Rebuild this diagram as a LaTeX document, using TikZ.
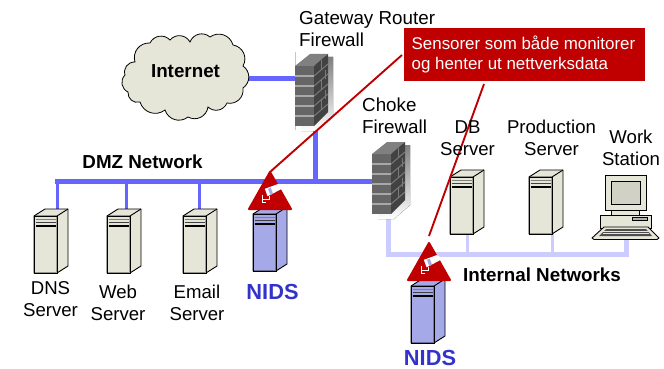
\documentclass[tikz,border=0pt]{standalone}
\usepackage{fontspec}
\setmainfont{Liberation Sans}
\definecolor{srvtan}{HTML}{E5E5D8}
\definecolor{srvblue}{HTML}{A6A9E8}
\definecolor{dmzblue}{HTML}{6666FF}
\definecolor{intblue}{HTML}{CCCCFF}
\definecolor{alarmred}{HTML}{C00000}
\definecolor{nidsblue}{HTML}{3333CC}
\definecolor{brickfront}{HTML}{666666}
\definecolor{brickside}{HTML}{424242}
\definecolor{mortar}{HTML}{A8A8A8}
\definecolor{shade}{HTML}{B4B4B4}
\newcommand{\srvbody}[1]{%
  \draw[line width=.9pt,fill=#1,line join=round] (0,0) -- (11,-7) -- (34,-7) -- (34,50) -- (23,57) -- (0,57) -- cycle;
  \draw[line width=.9pt] (0,0) -- (23,0) -- (34,-7) (23,0) -- (23,57);
  \fill[#1!70!black] (0,0) rectangle (1.2,57);
  \fill[#1!70!black] (21.8,0) rectangle (23,57);
  \draw[line width=.9pt] (0,0) -- (23,0) -- (23,57) -- (0,57) -- cycle;
  \foreach \yy/\cc in {3.5/gray,6.5/black!75,10/black}{\draw[\cc,line width=1.2pt] (1.5,\yy) -- (21.5,\yy);}
}
\tikzset{
  x=1pt,y=-1pt,
  servertan/.pic={\srvbody{srvtan}},
  serverblue/.pic={\srvbody{srvblue}},
  firewall/.pic={
    \fill[shade] (22,4) -- (38,4) -- (38,64) -- (22,78) -- (6,78) -- (6,73) -- cycle;
    \fill[brickfront] (0,13) -- (19,13) -- (19,73) -- (0,73) -- cycle;
    \fill[black!50] (0,13) -- (15,1) -- (33,1) -- (19,13) -- cycle;
    \fill[brickside] (19,13) -- (33,1) -- (33,59) -- (19,73) -- cycle;
    \foreach \yy in {23,33,43,53,63}{\draw[mortar,line width=1.2pt] (0,\yy) -- (19,\yy);}
    \foreach \yy in {10,20,30,40,50}{\draw[brickfront!70!mortar,line width=1pt] (19,\yy+13) -- (33,\yy+1);}
    \foreach \xx/\yy in {26/6,26/26,26/46,30/16,30/36}{\draw[brickfront!70!mortar,line width=.8pt] (\xx,\yy+1) -- (\xx,\yy+10);}
  },
  sensor/.pic={
    \fill[alarmred,draw=alarmred,line width=2pt,line join=round] (0,0) -- (21,37) -- (-21,37) -- cycle;
    \begin{scope}[shift={(2,19)},rotate=20]
      \fill[white] (-6,-4.5) -- (8,-4.5) -- (12,1) -- (-6,3.5) -- cycle;
      \fill[srvblue] (-3,-3.5) rectangle (0,3);
    \end{scope}
    \draw[white,line width=.7pt] (-8,23) -- (-8,30) (-8,27) -- (-1,27) -- (-1,24) (-8,30) -- (-4,30);
  },
  label/.style={font=\fontsize{18.6}{22}\selectfont,align=center,inner sep=0pt},
  lablft/.style={font=\fontsize{18.8}{22}\selectfont,align=left,inner sep=0pt},
  head/.style={font=\fontsize{18.8}{21}\selectfont\bfseries,inner sep=0pt},
  nidslabel/.style={font=\fontsize{21.8}{24}\selectfont\bfseries,text=nidsblue,inner sep=0pt,anchor=base},
  dmzbus/.style={dmzblue,line width=5pt},
  dmzdrop/.style={dmzblue,line width=3pt},
  intbus/.style={intblue,line width=5pt},
  intdrop/.style={intblue,line width=3pt},
  redline/.style={alarmred,line width=1.9pt},
  bump/.style={bend left=55,looseness=1.1},
}
\begin{document}
\begin{tikzpicture}
\useasboundingbox (0,0) rectangle (664,369);
% connection points
\coordinate (busL) at (55,181);
\coordinate (busR) at (375,181);
\coordinate (busW) at (126,181);
\coordinate (busE) at (199,181);
\coordinate (busD) at (57,181);
\coordinate (busG) at (315,181);
\coordinate (dnsT) at (57,210);
\coordinate (webT) at (126,210);
\coordinate (emailT) at (199,210);
\coordinate (gwB) at (315,125);
\coordinate (gwL) at (298,79);
\coordinate (inetR) at (247,79);
\coordinate (chokeB) at (388,210);
\coordinate (corner) at (388,254);
\coordinate (intR) at (626,254);
\coordinate (intDB) at (467,254);
\coordinate (intP) at (552,254);
\coordinate (dbB) at (467,232);
\coordinate (prodB) at (552,232);
\coordinate (wsB) at (626,238);
\coordinate (s1top) at (270,172);
\coordinate (s2top) at (429,236);
\coordinate (gwedgeT) at (295,52);
\coordinate (gwedgeB) at (295,130);
% links
\draw[gray!45,line width=.7pt] (gwedgeT) -- (gwedgeB);
\draw[dmzbus,line cap=butt] (inetR) -- (gwL);
\draw[dmzbus] (gwB) -- (busG);
\draw[dmzbus,line join=miter] (busL) -- (busR);
\draw[dmzdrop] (dnsT) -- (busD);
\draw[dmzdrop] (busW) -- (webT);
\draw[dmzdrop] (busE) -- (emailT);
\draw[intbus,line join=miter] (chokeB) -- (corner) -- (intR) -- (wsB);
\draw[intdrop] (dbB) -- (intDB);
\draw[intdrop] (prodB) -- (intP);
% cloud
\draw[fill=srvtan,line width=.8pt] (135,62) to[bump] (150,43) to[bump] (170,40) to[bump] (190,42) to[bump] (210,37) to[bump] (233,45) to[bump] (243,66) to[bump] (243,88) to[bump] (227,103) to[bump] (208,107) to[bump] (188,117) to[bump] (165,110) to[bump] (140,102) to[bump] (128,92) to[bump] (125,75) to[bump] (135,62) -- cycle;
\node[head] (inet) at (185.5,71) {Internet};
% devices
\pic (gw) at (295,53) {firewall};
\pic (choke) at (372,141) {firewall};
\pic (dns) at (34,216) {servertan};
\pic (web) at (107,216) {servertan};
\pic (email) at (183,216) {servertan};
\pic (nids1) at (253,214) {serverblue};
\pic (db) at (450,177) {servertan};
\pic (prod) at (529,177) {servertan};
\pic (nids2) at (411,286) {serverblue};
% workstation
\begin{scope}[line width=.9pt,fill=srvtan]
  \draw[fill=srvtan] (611,210) rectangle (639,216);
  \draw[fill=srvtan] (605,175) rectangle (646,210);
  \draw[fill=srvtan!80!gray] (611,181) rectangle (640,204);
  \draw[fill=srvtan] (600,215) rectangle (651,228);
  \draw[fill=gray!60] (632,217) rectangle (647,220);
  \draw[fill=srvtan,line join=round] (604,227) -- (648,227) -- (659,238) -- (657,239.5) -- (594,239.5) -- (592,238) -- cycle;
  \fill[black!70] (606,229) -- (646,229) -- (652,236) -- (599,236) -- cycle;
  \foreach \yy in {231,233.5}{\draw[srvtan,line width=.5pt] (603,\yy) -- (649,\yy);}
\end{scope}
% sensors
\pic (s1) at (270,172) {sensor};
\pic (s2) at (429,243) {sensor};
% callout
\node[fill=alarmred,minimum width=241pt,minimum height=53pt,inner sep=0pt,anchor=north west] (note) at (404,28) {};
\node[font=\fontsize{16.9}{19.5}\selectfont,text=white,align=left,inner sep=0pt,anchor=west] (notetext) at (411.5,54.5) {Sensorer som både monitorer\\og henter ut nettverksdata};
\coordinate (noteL) at (402,55);
\coordinate (noteB) at (484,84);
\draw[redline] (noteL) -- (s1top);
\draw[redline] (noteB) -- (s2top);
% labels
\node[lablft,anchor=west] (gwlab) at (299,29) {Gateway Router\\Firewall};
\node[lablft,anchor=west] (chokelab) at (362,116) {Choke\\Firewall};
\node[label] (dblab) at (467.5,138) {DB\\Server};
\node[label] (prodlab) at (551.5,138) {Production\\Server};
\node[label] (wslab) at (631,148) {Work\\Station};
\node[label] (dnslab) at (50.5,299) {DNS\\Server};
\node[label] (weblab) at (118,303) {Web\\Server};
\node[label] (emaillab) at (197,303) {Email\\Server};
\node[head] (dmz) at (142.5,162) {DMZ Network};
\node[head] (intlab) at (542,275) {Internal Networks};
\node[nidslabel] (nids1lab) at (272.5,299.5) {NIDS};
\node[nidslabel] (nids2lab) at (430,365) {NIDS};
\end{tikzpicture}
\end{document}
